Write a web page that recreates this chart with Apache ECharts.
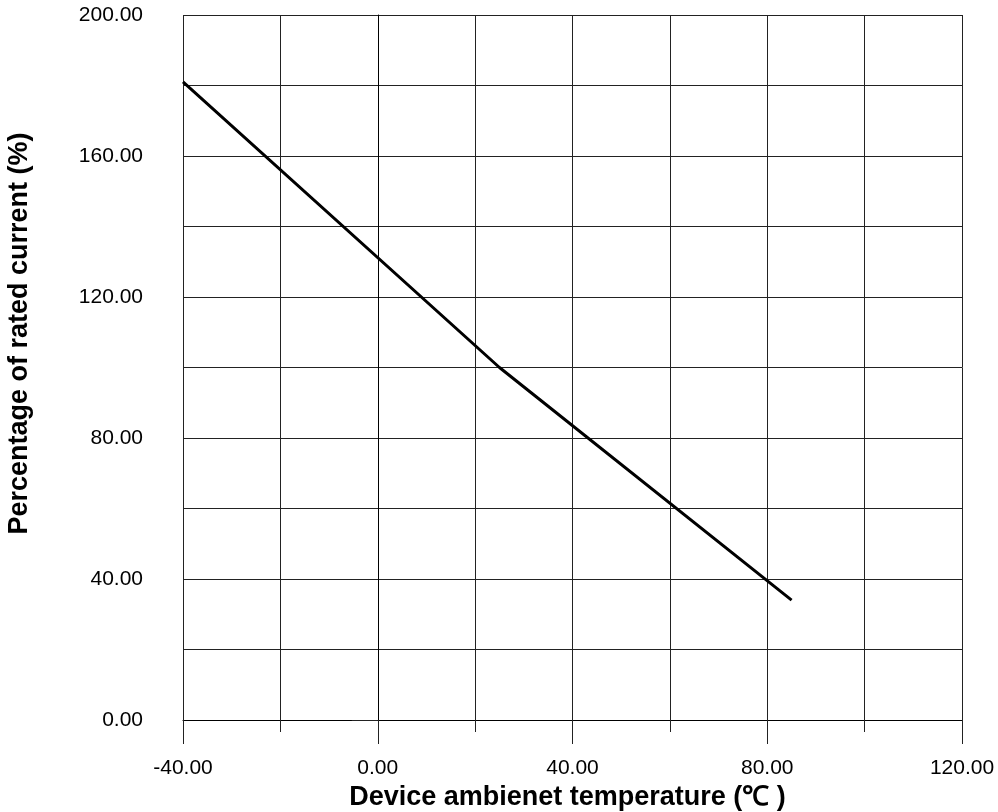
<!DOCTYPE html>
<html>
<head>
<meta charset="utf-8">
<script src="https://cdn.jsdelivr.net/npm/echarts@6/dist/echarts.min.js"></script>
<style>
    html, body { margin: 0; padding: 0; background: #fff; }
    #chart { width: 998px; height: 812px; }
</style>
</head>
<body>
<div id="chart"></div>
<script>
// values
var temperature = [-40, 25, 85];
var ratedPercent = [181, 100, 34];

var xTitle = 'Device ambienet temperature (\u2103 )';
var yTitle = 'Percentage of rated current (%)';

var lineColor = '#222';
var labelFont = 'Liberation Sans, Arial, sans-serif';

var points = [];
for (var i = 0; i < temperature.length; i++) {
    points.push([temperature[i], ratedPercent[i]]);
}

var fmt = function(v){ return v.toFixed(2); };

var chart = echarts.init(document.getElementById('chart'));
chart.setOption({
    animation: false,
    grid: { left: 183, right: 36, top: 15, bottom: 92, containLabel: false, outerBoundsMode: 'none' },
    xAxis: {
        type: 'value',
        min: -40, max: 120, interval: 40,
        name: xTitle,
        nameLocation: 'middle',
        nameGap: 59,
        nameTextStyle: { color: '#000', fontSize: 27, fontWeight: 'bold', fontFamily: labelFont, padding: [0, 10, 0, 0] },
        axisLine: { show: true, onZero: false, lineStyle: { color: '#000', width: 1 } },
        axisTick: { show: true, length: 24, lineStyle: { color: lineColor } },
        minorTick: { show: true, splitNumber: 2, length: 12, lineStyle: { color: lineColor } },
        splitLine: { show: true, lineStyle: { color: lineColor, width: 1 } },
        minorSplitLine: { show: true, lineStyle: { color: lineColor, width: 1 } },
        axisLabel: { formatter: fmt, color: '#000', fontSize: 21, fontFamily: labelFont, margin: 38 }
    },
    yAxis: {
        type: 'value',
        min: 0, max: 200, interval: 40,
        name: yTitle,
        nameLocation: 'middle',
        nameGap: 150,
        nameTextStyle: { color: '#000', fontSize: 27, fontWeight: 'bold', fontFamily: labelFont, padding: [0, 0, 0, 68] },
        axisLine: { show: true, lineStyle: { color: '#000', width: 1 } },
        axisTick: { show: true, length: 26, lineStyle: { color: lineColor } },
        minorTick: { show: true, splitNumber: 2, length: 13, lineStyle: { color: lineColor } },
        splitLine: { show: true, lineStyle: { color: lineColor, width: 1 } },
        minorSplitLine: { show: true, lineStyle: { color: lineColor, width: 1 } },
        axisLabel: { formatter: fmt, color: '#000', fontSize: 21, fontFamily: labelFont, margin: 40 }
    },
    series: [{
        type: 'line',
        data: points,
        symbol: 'none',
        lineStyle: { color: '#000', width: 3 }
    }]
});
</script>
</body>
</html>
